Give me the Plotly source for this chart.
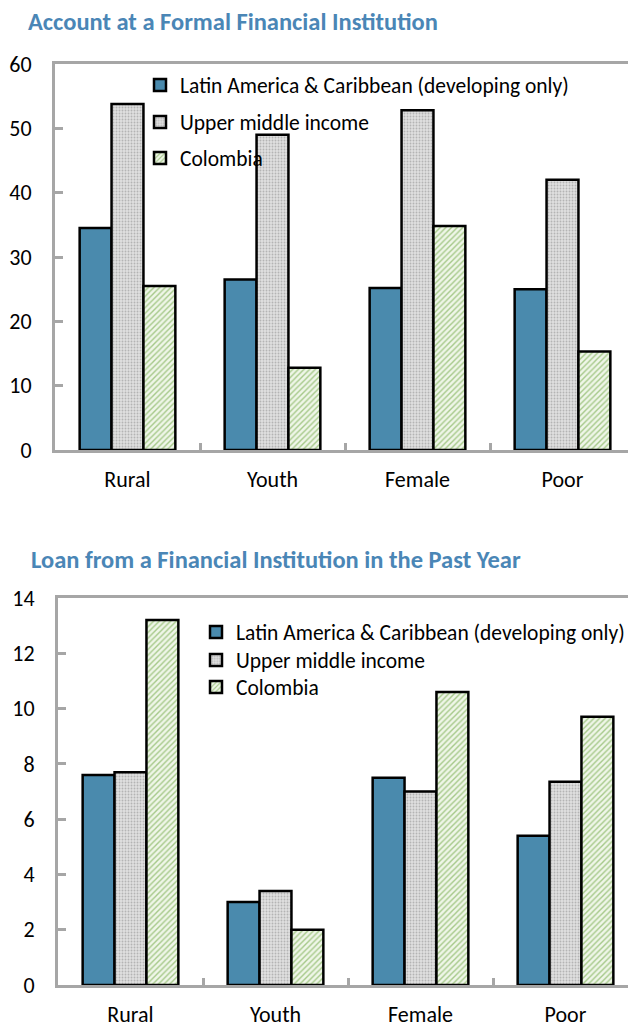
import plotly.graph_objects as go

categories = ["Rural", "Youth", "Female", "Poor"]
series_names = ["Latin America & Caribbean (developing only)", "Upper middle income", "Colombia"]

account_lac = [34.5, 26.5, 25.2, 25.0]
account_umi = [53.8, 49.0, 52.8, 42.0]
account_col = [25.5, 12.8, 34.8, 15.3]

loan_lac = [7.6, 3.0, 7.5, 5.4]
loan_umi = [7.7, 3.4, 7.0, 7.35]
loan_col = [13.2, 2.0, 10.6, 9.7]

titles = ["Account at a Formal Financial Institution",
          "Loan from a Financial Institution in the Past Year"]

W, H = 628, 1027
FONT = "Carlito, Calibri, 'Liberation Sans Narrow', Lato, sans-serif"
AXIS_GRAY = "#a6a6a6"

styles = [
    dict(color="#4a8aad", line=dict(color="black", width=2.5)),
    dict(color="#d4d4d4", line=dict(color="black", width=2.5),
         pattern=dict(shape=".", fgcolor="#b4b4b4", bgcolor="#e0e0e0", size=3, solidity=0.3, fillmode="replace")),
    dict(color="#dfeccf", line=dict(color="black", width=2.5),
         pattern=dict(shape="/", fgcolor="#a6c98a", bgcolor="#eff6e8", size=4, solidity=0.35, fillmode="replace")),
]

fig = go.Figure()

top_vals = [account_lac, account_umi, account_col]
bot_vals = [loan_lac, loan_umi, loan_col]
top_legends = ["legend", "legend2", "legend3"]
bot_legends = ["legend4", "legend5", "legend6"]

for i, (name, vals) in enumerate(zip(series_names, top_vals)):
    fig.add_trace(go.Bar(x=categories, y=vals, name=name, marker=styles[i],
                         xaxis="x", yaxis="y", legend=top_legends[i]))
for i, (name, vals) in enumerate(zip(series_names, bot_vals)):
    fig.add_trace(go.Bar(x=categories, y=vals, name=name, marker=styles[i],
                         xaxis="x2", yaxis="y2", legend=bot_legends[i]))


def px_y(py):
    return 1 - py / H


def px_x(px):
    return px / W


CAT_PX = 145.0
common_x = dict(showline=True, linecolor=AXIS_GRAY, linewidth=3, mirror=True,
                ticks="inside", tickson="boundaries", tickcolor=AXIS_GRAY, tickwidth=3, ticklen=7,
                tickfont=dict(family=FONT, size=22, color="black"), ticklabelstandoff=8,
                showgrid=False, zeroline=False, automargin=False)
common_y = dict(showline=True, linecolor=AXIS_GRAY, linewidth=3, mirror=False,
                ticks="inside", tickcolor=AXIS_GRAY, tickwidth=3, ticklen=8,
                tickfont=dict(family=FONT, size=22, color="black"), ticklabelstandoff=16,
                showgrid=False, zeroline=False, automargin=False)

legend_common = dict(bgcolor="rgba(0,0,0,0)", font=dict(family=FONT, size=21.5, color="black"),
                     xanchor="left", yanchor="middle", itemclick=False, itemdoubleclick=False)

top_left, bot_left = 55, 58
top_range = [-0.5, -0.5 + (W - top_left) / CAT_PX]
bot_range = [-0.5, -0.5 + (W - bot_left) / CAT_PX]

fig.update_layout(
    width=W, height=H,
    margin=dict(l=0, r=0, t=0, b=0, autoexpand=False),
    paper_bgcolor="white", plot_bgcolor="white",
    barmode="group", bargap=0.34, bargroupgap=0,
    showlegend=True,
    xaxis=dict(domain=[px_x(top_left), 1.0], anchor="y", range=top_range, **common_x),
    yaxis=dict(domain=[px_y(450), px_y(64)], anchor="x", range=[0, 60], dtick=10, **common_y),
    xaxis2=dict(domain=[px_x(bot_left), 1.0], anchor="y2", range=bot_range, **common_x),
    yaxis2=dict(domain=[px_y(985), px_y(598)], anchor="x2", range=[0, 14], dtick=2, **common_y),
    legend=dict(x=px_x(140), y=px_y(85), **legend_common),
    legend2=dict(x=px_x(140), y=px_y(122), **legend_common),
    legend3=dict(x=px_x(140), y=px_y(158), **legend_common),
    legend4=dict(x=px_x(196), y=px_y(632), **legend_common),
    legend5=dict(x=px_x(196), y=px_y(660), **legend_common),
    legend6=dict(x=px_x(196), y=px_y(687), **legend_common),
    annotations=[
        dict(text="<b>%s</b>" % titles[0], x=px_x(26), y=px_y(22), xref="paper", yref="paper",
             xanchor="left", yanchor="middle", showarrow=False,
             font=dict(family=FONT, size=24.5, color="#4a86b6")),
        dict(text="<b>%s</b>" % titles[1], x=px_x(29), y=px_y(560), xref="paper", yref="paper",
             xanchor="left", yanchor="middle", showarrow=False,
             font=dict(family=FONT, size=24.5, color="#4a86b6")),
    ],
)

fig.write_html("out.html", config={"displayModeBar": False},
               post_script="document.body.style.margin='0';")
